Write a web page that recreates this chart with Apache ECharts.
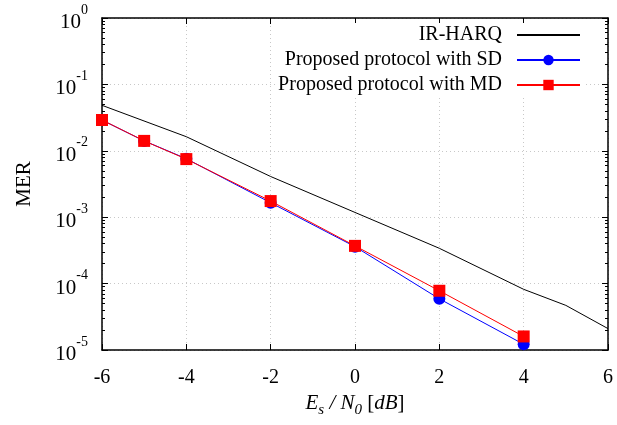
<!DOCTYPE html>
<html>
<head>
<meta charset="utf-8">
<script src="https://cdn.jsdelivr.net/npm/echarts@6/dist/echarts.min.js"></script>
<style>
  html, body { margin: 0; padding: 0; background: #fff; }
  #chart { width: 617px; height: 425px; }
</style>
</head>
<body>
<div id="chart"></div>
<script>
// data
const irX = [-6, -4, -2, 0, 2, 4, 5, 6];
const irMER = [0.0484, 0.0163, 0.0041, 0.00118, 3.4e-4, 8.2e-5, 4.7e-5, 2.1e-5];
const propX = [-6, -5, -4, -2, 0, 2, 4];
const sdMER = [0.029, 0.0141, 0.0076, 0.00165, 3.6e-4, 5.9e-5, 1.22e-5];
const mdMER = [0.0291, 0.0141, 0.0075, 0.00175, 3.7e-4, 7.8e-5, 1.6e-5];
const xTicks = [-6, -4, -2, 0, 2, 4, 6];
const yDecades = [-5, -4, -3, -2, -1, 0];

const font = "Liberation Serif";

// minor ticks at 2..9 in every decade
const minorVals = [];
yDecades.slice(0, -1).forEach(d => {
  for (let k = 2; k <= 9; k++) minorVals.push(k * Math.pow(10, d));
});

const pairs = (xs, ys) => xs.map((x, i) => [x, ys[i]]);

const axisLine = { show: true, onZero: false, lineStyle: { color: "#000", width: 1.5 } };
const noLine = { show: false, onZero: false };
const majorTick = { inside: true, length: 6, lineStyle: { color: "#000" } };
const minorTick = { inside: true, length: 3, customValues: minorVals, lineStyle: { color: "#000" } };
const dotted = { show: true, lineStyle: { color: "#c8c8c8", type: [1, 3], width: 1 } };

const chart = echarts.init(document.getElementById("chart"));
chart.setOption({
  animation: false,
  backgroundColor: "#fff",
  grid: { left: 102, right: 9, top: 18, bottom: 75 },
  legend: {
    orient: "vertical",
    right: 34,
    top: 23,
    align: "right",
    itemWidth: 63,
    itemHeight: 13,
    itemGap: 5,
    backgroundColor: "#fff",
    padding: [2, 2, 2, 2],
    textStyle: { fontFamily: font, fontSize: 20, color: "#000", padding: [0, 10, 0, 0] },
    data: ["IR-HARQ", "Proposed protocol with SD", "Proposed protocol with MD"]
  },
  xAxis: [
    {
      type: "value", position: "bottom", min: -6, max: 6, interval: 2,
      axisLine: axisLine,
      axisTick: majorTick,
      axisLabel: { fontFamily: font, fontSize: 20, color: "#000", margin: 18 },
      splitLine: dotted,
      name: "{i|E}{sub|s}{i| / N}{sub|0}{r| [}{i|dB}{r|]}",
      nameLocation: "middle",
      nameGap: 42,
      nameTextStyle: {
        fontFamily: font, fontSize: 20, color: "#000",
        rich: {
          i: { fontFamily: font, fontSize: 21, fontStyle: "italic", color: "#000", verticalAlign: "top", lineHeight: 22 },
          r: { fontFamily: font, fontSize: 21, color: "#000", verticalAlign: "top", lineHeight: 22 },
          sub: { fontFamily: font, fontSize: 15, fontStyle: "italic", color: "#000", verticalAlign: "top", lineHeight: 16, padding: [10, 0, 0, 0] }
        }
      }
    },
    {
      type: "value", position: "top", min: -6, max: 6, interval: 2,
      axisLine: axisLine,
      axisTick: majorTick,
      axisLabel: { show: false },
      splitLine: { show: false }
    }
  ],
  yAxis: [
    {
      type: "log", logBase: 10, min: 1e-5, max: 1, position: "left",
      axisLine: axisLine,
      axisTick: majorTick,
      axisLabel: {
        margin: 14,
        formatter: v => "{b|10}{s|" + Math.round(Math.log10(v)) + "}",
        rich: {
          b: { fontFamily: font, fontSize: 21, color: "#000", verticalAlign: "bottom", lineHeight: 30 },
          s: { fontFamily: font, fontSize: 14, color: "#000", verticalAlign: "top", lineHeight: 30 }
        }
      },
      splitLine: dotted,
      name: "MER",
      nameLocation: "middle",
      nameRotate: 90,
      nameGap: 67,
      nameTextStyle: { fontFamily: font, fontSize: 21, color: "#000" }
    },
    {
      type: "log", logBase: 10, min: 1e-5, max: 1, position: "right",
      axisLine: axisLine,
      axisTick: majorTick,
      axisLabel: { show: false },
      splitLine: { show: false }
    },
    {
      type: "log", logBase: 10, min: 1e-5, max: 1, position: "left",
      axisLine: noLine,
      axisTick: minorTick,
      axisLabel: { show: false },
      splitLine: { show: false }
    },
    {
      type: "log", logBase: 10, min: 1e-5, max: 1, position: "right",
      axisLine: noLine,
      axisTick: minorTick,
      axisLabel: { show: false },
      splitLine: { show: false }
    }
  ],
  series: [
    {
      name: "IR-HARQ", type: "line", showSymbol: false, symbol: "none",
      data: pairs(irX, irMER),
      lineStyle: { color: "#000", width: 1 },
      itemStyle: { color: "rgba(0,0,0,0)" }
    },
    {
      name: "Proposed protocol with SD", type: "line",
      data: pairs(propX, sdMER),
      symbol: "circle", symbolSize: 12,
      lineStyle: { color: "#0000ff", width: 1 },
      itemStyle: { color: "#0000ff" }
    },
    {
      name: "Proposed protocol with MD", type: "line",
      data: pairs(propX, mdMER),
      symbol: "rect", symbolSize: 12,
      lineStyle: { color: "#ff0000", width: 1 },
      itemStyle: { color: "#ff0000" }
    }
  ]
});
</script>
</body>
</html>
